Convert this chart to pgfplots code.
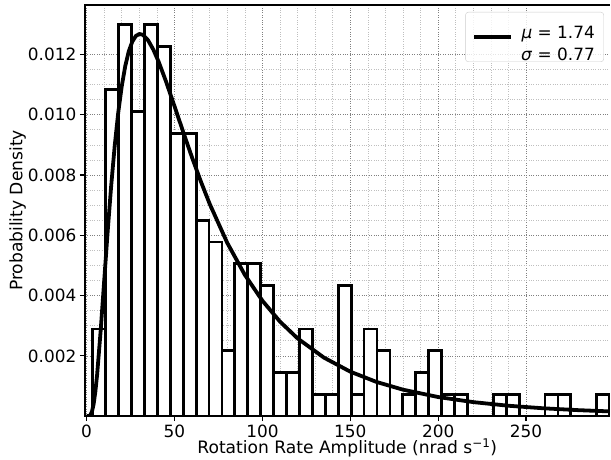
\documentclass[border=0pt]{standalone}
\usepackage{fontspec}
\setmainfont{DejaVu Sans}
\usepackage{pgfplots}
\pgfplotsset{compat=1.18}

\pgfplotstableread{
x       y
7.175   0.002888
14.525  0.010830
21.875  0.012996
29.225  0.010108
36.575  0.012996
43.925  0.012274
51.275  0.009386
58.625  0.009386
65.975  0.006498
73.325  0.005776
80.675  0.002166
88.025  0.005054
95.375  0.005054
102.725 0.004332
110.075 0.001444
117.425 0.001444
124.775 0.002888
132.125 0.000722
139.475 0.000722
146.825 0.004332
154.175 0.000722
161.525 0.002888
168.875 0.002166
176.225 0.000000
183.575 0.000722
190.925 0.001444
198.275 0.002166
205.625 0.000722
212.975 0.000722
220.325 0.000000
227.675 0.000000
235.025 0.000722
242.375 0.000722
249.725 0.000000
257.075 0.000000
264.425 0.000722
271.775 0.000722
279.125 0.000000
286.475 0.000000
293.825 0.000722
}\histdata

\begin{document}
\begin{tikzpicture}
\begin{axis}[
    scale only axis, width=526bp, height=412bp,
    xmin=-1, xmax=297.6, ymin=0, ymax=0.01364,
    xtick={0,50,...,250},
    ytick={0.002,0.004,0.006,0.008,0.010,0.012},
    minor x tick num=4, minor y tick num=3,
    grid=both,
    major grid style={black!50, dotted, line width=0.7bp},
    minor grid style={black!25, dotted, line width=0.6bp},
    tick align=outside, xtick pos=bottom, ytick pos=left,
    major tick length=5bp, minor tick length=0pt,
    every tick/.style={black, line width=1.2bp},
    axis line style={draw=none},
    scaled y ticks=false,
    y tick label style={/pgf/number format/fixed, /pgf/number format/precision=3, /pgf/number format/fixed zerofill},
    /pgf/number format/assume math mode=true,
    tick label style={font=\fontsize{17}{20}\selectfont},
    xlabel={Rotation Rate Amplitude (nrad s\textsuperscript{−1})},
    ylabel={Probability Density},
    every axis x label/.style={at={(axis description cs:0.5,-0.078)}, anchor=center, inner sep=0pt, font=\fontsize{17.2}{20}\selectfont},
    every axis y label/.style={at={(axis description cs:-0.128,0.5)}, rotate=90, anchor=center, inner sep=0pt, font=\fontsize{17.2}{20}\selectfont},
    legend style={at={(axis description cs:0.989,0.983)}, anchor=north east,
        draw=black!20, rounded corners=3bp, fill=white, fill opacity=0.8, text opacity=1,
        font=\fontsize{17}{22}\selectfont, inner xsep=7bp, inner ysep=9bp},
]
% histogram
\addplot[ybar, bar width=7.35, bar shift=0pt, fill=white, draw=black, line width=2.8bp, forget plot] table[x=x, y=y] {\histdata};

% fitted lognormal
\addplot[black, line width=3.8bp, line join=round,
    legend image code/.code={\draw[black, line width=3.8bp] (0bp,0bp) -- (37bp,0bp);}]
coordinates {
(0,0) (1,0.0000007) (2,0.0000247) (3,0.000138) (4,0.000396) (5,0.000815)
(6,0.001381) (8,0.002826) (10,0.004478) (12,0.006128) (14,0.007646)
(16,0.008968) (18,0.010067) (20,0.010944) (22,0.011615) (24,0.012103)
(26,0.012424) (28,0.012611) (30,0.012679) (32,0.012651) (35,0.012468)
(38,0.012156) (41,0.011755) (45,0.011132) (50,0.010284) (55,0.009420)
(60,0.008579) (65,0.007784) (70,0.007045) (80,0.005750) (90,0.004689)
(100,0.003830) (110,0.003138) (120,0.002581) (135,0.001942) (150,0.001476)
(165,0.001133) (180,0.000878) (200,0.000634) (220,0.000465) (240,0.000345)
(260,0.000260) (280,0.000198) (300,0.000152)
};
\addlegendentry{\hspace*{6bp}\begin{tabular}{@{}r@{}}\textit{μ} = 1.74\\\textit{σ} = 0.77\end{tabular}}
\end{axis}
\draw[line width=2.5bp] (current axis.north east) -- (current axis.north west) -- (current axis.south west) -- (current axis.south east);
\path ([yshift=5bp]current axis.north west);
\path ([xshift=-85bp,yshift=-43bp]current axis.south west);
\end{tikzpicture}
\end{document}
